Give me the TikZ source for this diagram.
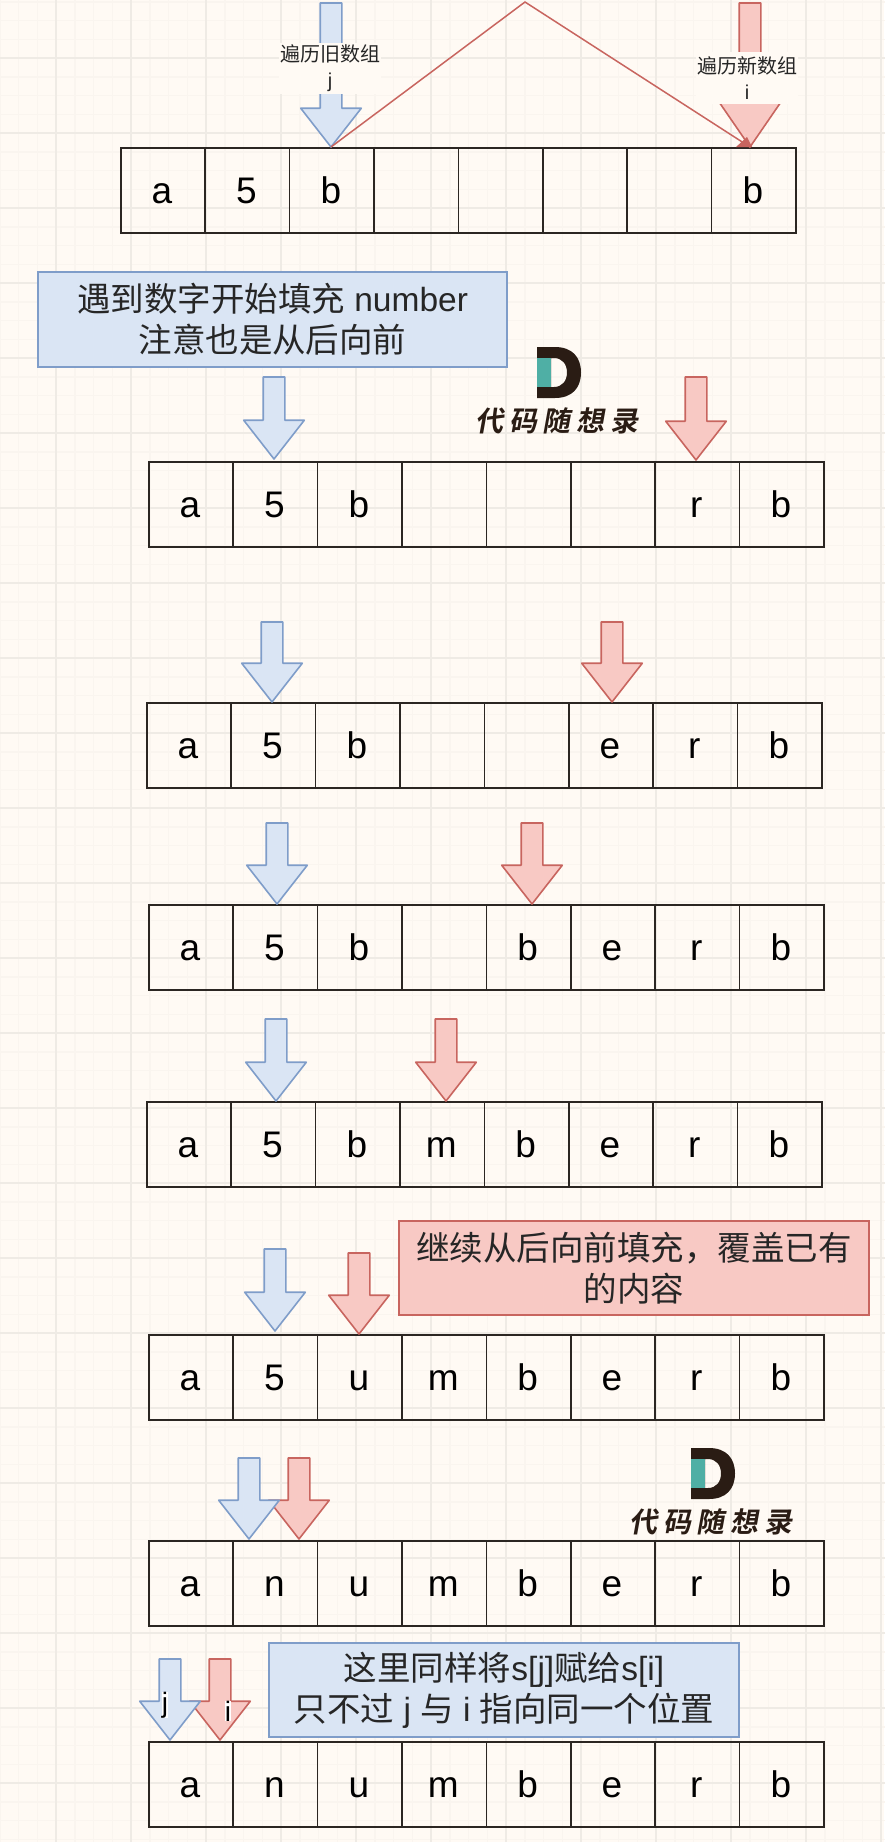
\documentclass[tikz,border=0pt]{standalone}
\usepackage{fontspec}
\setmainfont{Liberation Sans}
\newfontfamily\cjk{Noto Sans CJK SC}
\newfontfamily\logofont[LetterSpace=21,FakeSlant=0.18]{Noto Sans CJK SC Bold}
\usetikzlibrary{arrows.meta, shapes.arrows}
\definecolor{pagebg}{HTML}{FFFAF4}
\definecolor{minorline}{HTML}{FAF5EF}
\definecolor{majorline}{HTML}{EFEBE5}
\definecolor{bluefill}{HTML}{DAE5F4}
\definecolor{blueline}{HTML}{7F9DC9}
\definecolor{redfill}{HTML}{F8C9C4}
\definecolor{redline}{HTML}{C8655F}
\definecolor{cellline}{HTML}{2B2622}
\definecolor{logodark}{HTML}{2A1C14}
\definecolor{logoteal}{HTML}{4FAFA5}
\tikzset{
  cellbox/.style={draw=cellline, line width=1.6pt, anchor=north west,
                  minimum width=84.4pt, minimum height=85pt, inner sep=0pt,
                  text height=27pt, text depth=0pt,
                  font=\fontsize{37}{37}\selectfont, text=black},
  arrowbase/.style={single arrow, single arrow head extend=19.5pt,
                    single arrow tip angle=76, minimum width=59pt,
                    inner xsep=0pt, inner ysep=10pt, outer sep=0pt, rotate=-90, anchor=tip,
                    line width=1.6pt, line join=round},
  bluearrow/.style={arrowbase, draw=blueline, fill=bluefill},
  redarrow/.style={arrowbase, draw=redline, fill=redfill},
  notebox/.style={draw, line width=1.4pt, align=center, inner sep=0pt,
                  font=\fontsize{33.5}{41}\selectfont, text=black!85},
  smalllabel/.style={fill=pagebg, align=center, inner sep=0pt, text width=102pt,
                     font=\fontsize{20}{26}\selectfont, text=black!85},
  pointerlabel/.style={fill=white, inner sep=0pt, font=\fontsize{28}{28}\selectfont, text=black},
  logotext/.style={inner sep=0pt, font=\fontsize{28}{28}\logofont, text=logodark}
}
\begin{document}
\begin{tikzpicture}[x=1pt, y=-1pt]
\useasboundingbox (0,0) rectangle (884,1842);
\fill[pagebg] (0,0) rectangle (884,1842);
\draw[minorline, line width=1.5pt, step=18.75pt, shift={(56,58)}] (-75,-75) grid (850,1800);
\draw[majorline, line width=1.5pt, step=75pt, shift={(56,58)}] (-75,-75) grid (850,1800);
% the eight rows of the array
\foreach \rx/\ry/\letters [count=\r] in {
    120/147/{a,5,b,,,,,b},
    148/461/{a,5,b,,,,r,b},
    146/702/{a,5,b,,,e,r,b},
    148/904/{a,5,b,,b,e,r,b},
    146/1101/{a,5,b,m,b,e,r,b},
    148/1334/{a,5,u,m,b,e,r,b},
    148/1540/{a,n,u,m,b,e,r,b},
    148/1741/{a,n,u,m,b,e,r,b}}
  \foreach \c [count=\k] in \letters
    \node[cellbox] (cell\r-\k) at ({\rx+(\k-1)*84.4},\ry) {\kern-2pt\c};
% first row: the jump from j to i
\coordinate (apex) at (525,2);
\node[redarrow, minimum height=144pt, single arrow tip angle=69] (red1) at (750,147) {};
\node[bluearrow, minimum height=144pt] (blue1) at (331,147) {};
\draw[redline, line width=1.5pt] (blue1.tip) -- (apex) -- (red1.tip);
\fill[redline, shift={(red1.tip)}] (-14,0) -- (2,0) -- (-3,-10) -- cycle;
\node[smalllabel, minimum height=51pt] (oldlabel) at (330,68) {{\cjk 遍历旧数组}\\j};
\node[smalllabel, minimum height=52pt] (newlabel) at (747,78) {{\cjk 遍历新数组}\\i};
% pointers of the other rows
\foreach \nm/\cl/\ax/\ay/\len in {
    blue2/blue/274/459/82, red2/red/696/460/83,
    blue3/blue/272/702/80, red3/red/612/702/80,
    blue4/blue/277/904/81, red4/red/532/904/81,
    blue5/blue/276/1101/82, red5/red/446/1101/82,
    blue6/blue/275/1331/82, red6/red/359/1334/81,
    red7/red/299/1539/81, blue7/blue/249/1539/81,
    red8/red/220/1740/81, blue8/blue/170/1740/81}
  \node[\cl arrow, minimum height=\len pt] (\nm) at (\ax,\ay) {};
\node[pointerlabel] (jlabel) at (165,1705) {j};
\node[pointerlabel] (ilabel) at (228,1711) {i};
% notes
\node[notebox, draw=blueline, fill=bluefill, minimum width=469pt, minimum height=95pt] (note1) at (272.5,319.5)
  {{\cjk 遇到数字开始填充} number\\{\cjk 注意也是从后向前}};
\node[notebox, draw=redline, fill=redfill, minimum width=470pt, minimum height=94pt] (note2) at (634,1268)
  {{\cjk 继续从后向前填充，覆盖已有}\\{\cjk 的内容}};
\node[notebox, draw=blueline, fill=bluefill, minimum width=470pt, minimum height=94pt] (note3) at (504,1690)
  {{\cjk 这里同样将}s[j]{\cjk 赋给}s[i]\\{\cjk 只不过} j {\cjk 与} i {\cjk 指向同一个位置}};
% logo marks
\foreach \lx/\ly/\n in {537/347/1, 691/1448/2} {
  \begin{scope}[shift={(\lx,\ly)}]
    \fill[logodark, even odd rule] (0,0) -- (18,0) .. controls (35,0) and (44,10) .. (44,25.5)
      .. controls (44,41) and (35,51) .. (18,51) -- (0,51) -- cycle
      (14,11) -- (17,11) .. controls (25,11) and (30,17) .. (30,25.5)
      .. controls (30,34) and (25,40) .. (17,40) -- (14,40) -- cycle;
    \fill[logoteal] (0,11) rectangle (14,40);
    \node[logotext] (logo\n) at (20,74) {代码随想录};
  \end{scope}
}
\end{tikzpicture}
\end{document}
